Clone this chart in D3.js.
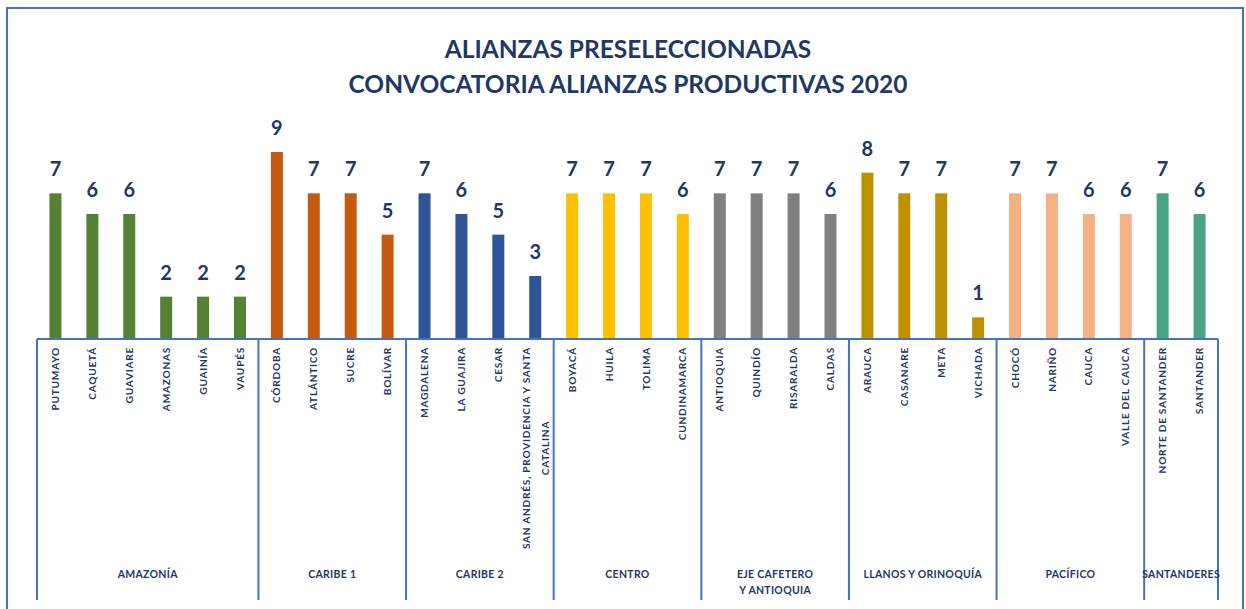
<!DOCTYPE html>
<html><head><meta charset="utf-8">
<script src="https://cdn.jsdelivr.net/npm/d3@7"></script>
<style>
html,body{margin:0;padding:0;background:#fff;}
svg{display:block;}
</style></head>
<body>
<svg id="chart" width="1246" height="609"></svg>
<script>
const titleLines = ["ALIANZAS PRESELECCIONADAS", "CONVOCATORIA ALIANZAS PRODUCTIVAS 2020"];
const departamentos = ["PUTUMAYO","CAQUETÁ","GUAVIARE","AMAZONAS","GUAINÍA","VAUPÉS",
  "CÓRDOBA","ATLÁNTICO","SUCRE","BOLÍVAR",
  "MAGDALENA","LA GUAJIRA","CESAR","SAN ANDRÉS, PROVIDENCIA Y SANTA\nCATALINA",
  "BOYACÁ","HUILA","TOLIMA","CUNDINAMARCA",
  "ANTIOQUIA","QUINDÍO","RISARALDA","CALDAS",
  "ARAUCA","CASANARE","META","VICHADA",
  "CHOCÓ","NARIÑO","CAUCA","VALLE DEL CAUCA",
  "NORTE DE SANTANDER","SANTANDER"];
const valores = [7,6,6,2,2,2, 9,7,7,5, 7,6,5,3, 7,7,7,6, 7,7,7,6, 8,7,7,1, 7,7,6,6, 7,6];
const regionDe = [0,0,0,0,0,0, 1,1,1,1, 2,2,2,2, 3,3,3,3, 4,4,4,4, 5,5,5,5, 6,6,6,6, 7,7];
const regiones = ["AMAZONÍA","CARIBE 1","CARIBE 2","CENTRO","EJE CAFETERO\nY ANTIOQUIA","LLANOS Y ORINOQUÍA","PACÍFICO","SANTANDERES"];
const coloresRegion = ["#548235","#C55A11","#2F5597","#FFC000","#808080","#BF9000","#F4B183","#4AA483"];

const navy = "#1F3864";
const frameBlue = "#4472C4";
const font = "Lato, 'Open Sans', sans-serif";

const svg = d3.select("#chart");

// outer frame
svg.append("rect").attr("x",7).attr("y",8).attr("width",1236).attr("height",700)
  .attr("fill","none").attr("stroke",frameBlue).attr("stroke-width",2);

// title
svg.append("g").selectAll("text").data(titleLines).join("text")
  .attr("x",628).attr("y",(d,i)=>58+i*35)
  .attr("text-anchor","middle")
  .attr("font-family",font).attr("font-weight","bold").attr("font-size",24.5)
  .attr("fill",navy).text(d=>d);

const x0 = 37, x1 = 1218, baseY = 338;
const x = d3.scaleBand().domain(d3.range(departamentos.length)).range([x0,x1])
  .paddingInner(0.675).paddingOuter(0.3375);
const y = d3.scaleLinear().domain([0,9]).range([baseY,152]);

// bars
svg.append("g").selectAll("rect").data(valores).join("rect")
  .attr("x",(d,i)=>x(i)).attr("width",x.bandwidth())
  .attr("y",d=>y(d)).attr("height",d=>baseY-y(d))
  .attr("fill",(d,i)=>coloresRegion[regionDe[i]]);

// value labels
svg.append("g").selectAll("text").data(valores).join("text")
  .attr("x",(d,i)=>x(i)+x.bandwidth()/2).attr("y",d=>y(d)-17)
  .attr("text-anchor","middle")
  .attr("font-family",font).attr("font-weight","bold").attr("font-size",20)
  .attr("fill",navy).text(d=>d);

// axis line
const axisY = 339;
svg.append("line").attr("x1",x0).attr("x2",x1).attr("y1",axisY).attr("y2",axisY)
  .attr("stroke",frameBlue).attr("stroke-width",2);

// group boundaries
const step = x.step();
const starts = regiones.map((r,k)=>regionDe.indexOf(k));
const ends = regiones.map((r,k)=>regionDe.lastIndexOf(k)+1);
const bounds = [x0, ...ends.map(e=>x0+e*step)];
svg.append("g").selectAll("line").data(bounds).join("line")
  .attr("x1",d=>d).attr("x2",d=>d).attr("y1",axisY).attr("y2",600)
  .attr("stroke",frameBlue).attr("stroke-width",2);

// category labels (rotated)
const catG = svg.append("g");
const catFs = 10.2, catLs = 0.7;
departamentos.forEach((name,i)=>{
  const cx = x(i)+x.bandwidth()/2;
  const lines = name.split("\n");
  if(lines.length===1){
    catG.append("text")
      .attr("transform",`translate(${cx},347) rotate(-90)`)
      .attr("text-anchor","end").attr("dy","0.35em")
      .attr("font-family",font).attr("font-weight","bold").attr("font-size",catFs)
      .attr("letter-spacing",catLs)
      .attr("fill",navy).text(name);
  } else {
    const t1 = catG.append("text")
      .attr("transform",`translate(${cx-9},347) rotate(-90)`)
      .attr("text-anchor","end").attr("dy","0.35em")
      .attr("font-family",font).attr("font-weight","bold").attr("font-size",catFs)
      .attr("letter-spacing",catLs)
      .attr("fill",navy).text(lines[0]);
    const len = t1.node().getComputedTextLength();
    catG.append("text")
      .attr("transform",`translate(${cx+10},${347+len/2}) rotate(-90)`)
      .attr("text-anchor","middle").attr("dy","0.35em")
      .attr("font-family",font).attr("font-weight","bold").attr("font-size",catFs)
      .attr("letter-spacing",catLs)
      .attr("fill",navy).text(lines[1]);
  }
});

// region labels
const regG = svg.append("g");
regiones.forEach((r,k)=>{
  const cx = x0 + (starts[k]+ends[k])/2*step;
  r.split("\n").forEach((ln,j)=>{
    regG.append("text").attr("x",cx).attr("y",578+j*16)
      .attr("text-anchor","middle")
      .attr("font-family",font).attr("font-weight","bold").attr("font-size",10.5)
      .attr("letter-spacing",0.3)
      .attr("fill",navy).text(ln);
  });
});
</script>
</body></html>
